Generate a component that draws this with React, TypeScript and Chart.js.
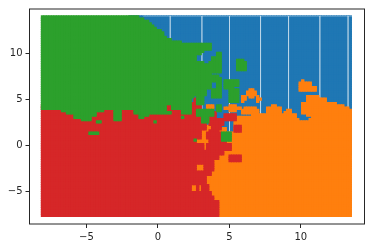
import React, { useEffect, useRef } from "react";
import { Chart, registerables } from "chart.js";

Chart.register(...registerables);

// Regions of the decision surface, as [xMin, xMax, yMin, yMax]
const blueRegions = [[-2, 13.6, -1, 14.1]];

const orangeRegions = [
  [2.26, 4.15, -7.8, 2.29], [4.15, 5.27, -7.8, 1.54], [4.15, 4.85, 1.54, 1.85],
  [5.27, 6.46, -7.8, 3.15], [6.46, 8.77, -7.8, 3.36], [8.77, 9.05, -7.8, 3.58],
  [9.05, 9.4, -7.8, 3.9], [9.4, 9.68, -7.8, 3.47], [9.68, 9.89, -7.8, 2.93],
  [9.89, 10.52, -7.8, 2.61], [10.52, 10.66, -7.8, 2.82], [10.1, 10.38, 3.47, 4.76],
  [10.38, 10.66, 3.15, 5.3], [10.66, 11.23, -7.8, 5.3], [11.23, 11.86, -7.8, 5.08],
  [11.86, 12.56, -7.8, 4.76], [12.56, 12.98, -7.8, 4.44], [12.98, 13.33, -7.8, 4.11],
  [13.33, 13.6, -7.8, 3.79],
  [6.39, 6.67, 5.08, 6.15], [6.18, 6.81, 5.3, 5.83], [5.76, 6.18, 4.87, 5.3],
  [5.9, 6.04, 4.65, 5.51], [6.81, 7.23, 4.87, 5.08], [6.95, 7.09, 4.65, 5.3],
  [4.64, 5.76, 3.9, 4.22], [4.92, 5.48, 3.68, 4.44], [5.76, 7.02, 3.36, 3.9],
  [6.04, 6.81, 3.36, 4.11], [3.38, 3.87, 4.01, 4.44], [7.51, 8.56, 3.36, 4.11],
  [7.86, 8.21, 3.36, 4.44], [9.96, 10.24, 5.95, 7.23], [9.89, 10.66, 5.95, 6.91],
  [9.89, 11.16, 5.95, 6.48],
];

const redRegions = [
  [-8.17, 2.96, 2.82, 4.33], [-8.17, 3.31, 2.29, 2.82], [3.52, 4.57, 2.29, 2.82],
  [-8.17, 3.31, 1.75, 2.29], [3.8, 4.5, 1.75, 2.29], [-8.17, 3.1, 1.32, 1.75],
  [3.52, 4.22, 1.32, 1.75], [-8.17, 3.1, 0.67, 1.32], [3.45, 4.5, 0.67, 1.32],
  [-8.17, 2.61, 0.14, 0.67], [3.52, 4.71, 0.14, 0.67], [-8.17, 3.17, -0.61, 0.14],
  [3.45, 5.06, -0.61, 0.14], [-8.17, 4.57, -0.93, -0.61], [-8.17, 4.22, -1.47, -0.93],
  [-8.17, 3.87, -2.02, -1.47], [-8.17, 2.61, -2.76, -2.02], [3.17, 3.87, -2.76, -2.02],
  [-8.17, 3.66, -3.29, -2.76], [-8.17, 3.45, -4.16, -3.29], [-8.17, 2.26, -4.9, -4.16],
  [2.68, 2.82, -4.9, -4.16], [3.1, 3.52, -4.9, -4.16], [-8.17, 3.66, -5.45, -4.9],
  [-8.17, 3.87, -5.98, -5.45], [-8.17, 4.22, -6.52, -5.98], [-8.17, 4.29, -7.8, -6.52],
  [4.92, 5.76, -1.9, -0.93], [5.27, 5.9, 1.32, 2.29], [4.57, 5.41, 2.61, 3.47],
  [3.45, 4.15, 2.93, 3.68], [2.47, 2.75, 3.95, 5.08], [2.26, 2.96, 4.33, 4.76],
];

const greenRegions = [
  [-8.17, -7.19, 3.95, 14.1], [-7.19, -6.84, 3.79, 14.1], [-6.84, -6.35, 3.58, 14.1],
  [-6.35, -5.93, 3.36, 14.1], [-5.93, -5.44, 2.93, 14.1], [-5.44, -4.6, 2.66, 14.1],
  [-4.6, -4.25, 3.25, 14.1], [-4.25, -3.83, 3.68, 14.1], [-3.83, -3.13, 3.95, 14.1],
  [-3.13, -2.5, 2.66, 14.1], [-2.5, -2.08, 3.95, 14.1], [-2.08, -1.73, 3.79, 14.1],
  [-1.73, -1.38, 3.47, 14.1], [-1.38, -1.03, 2.93, 13.89], [-1.03, -0.68, 3.25, 13.57],
  [-0.68, -0.47, 3.36, 13.35], [-0.47, -0.26, 3.36, 13.14], [-0.26, -0.05, 3.36, 12.92],
  [-0.05, 0.16, 3.36, 12.6], [0.16, 0.37, 3.36, 12.28], [0.37, 0.58, 3.36, 11.95],
  [0.58, 1.0, 4.33, 11.63], [1.0, 1.56, 3.9, 11.42], [1.56, 1.7, 3.47, 11.42],
  [1.7, 2.26, 3.47, 11.2], [2.26, 2.54, 5.08, 11.2], [2.47, 2.54, 3.47, 4.01],
  [2.54, 3.66, 10.45, 11.1], [2.54, 3.38, 10.24, 10.45], [2.54, 3.17, 10.02, 10.24],
  [2.54, 2.96, 9.81, 10.02], [2.54, 2.75, 9.05, 9.81], [2.54, 3.17, 8.84, 9.05],
  [2.54, 3.66, 7.66, 8.84], [2.54, 4.29, 7.34, 7.66], [2.54, 4.5, 6.91, 7.34],
  [2.54, 3.66, 6.15, 6.91], [2.54, 3.45, 5.51, 6.15], [2.75, 3.17, 4.33, 5.51],
  [4.01, 4.5, 9.59, 10.02], [3.8, 4.5, 9.16, 9.59], [3.59, 4.5, 7.98, 9.16],
  [4.01, 4.5, 6.26, 6.91], [3.8, 4.5, 5.19, 6.15], [4.64, 5.62, 6.48, 7.23],
  [4.64, 5.27, 6.26, 6.48], [4.92, 5.62, 4.76, 6.15], [5.55, 5.97, 9.16, 9.38],
  [5.55, 6.25, 8.19, 9.16], [4.01, 4.5, 3.68, 4.44], [2.61, 3.87, 3.15, 4.01],
  [3.0, 3.52, 2.4, 3.15], [4.5, 5.13, 0.46, 1.32],
  [-4.6, -4.25, 1.21, 1.43], [-4.88, -4.18, 1.11, 1.32], [-4.25, -3.99, 2.5, 2.72],
  [-0.35, -0.05, 2.5, 2.72], [0.58, 0.86, 3.36, 3.58], [1.56, 1.84, 2.93, 3.15],
  [2.47, 2.68, 0.36, 0.56],
];

const seamPositions = [0.86, 3.08, 5.01, 7.18, 9.14, 11.33, 13.3];
const seamRange = [14.05, -1];
const topEdge = [-1.03, 13.6, 14.05];

const xTicks = [-5, 0, 5, 10];
const yTicks = [-5, 0, 5, 10];

const xStart = -8.07;
const xStep = 0.175;
const xCount = 124;
const yStart = 13.95;
const yStep = 0.248;
const yCount = 88;

function mesh(regions: number[][]) {
  const pts: { x: number; y: number }[] = [];
  for (let i = 0; i < xCount; i++) {
    const x = xStart + i * xStep;
    for (let j = 0; j < yCount; j++) {
      const y = yStart - j * yStep;
      if (regions.some((r) => x >= r[0] && x <= r[1] && y >= r[2] && y <= r[3])) pts.push({ x, y });
    }
  }
  return pts;
}

function seamPoints() {
  const pts: { x: number; y: number }[] = [];
  for (const s of seamPositions) {
    pts.push({ x: s, y: seamRange[0] }, { x: s, y: seamRange[1] }, { x: s, y: NaN });
  }
  pts.push({ x: topEdge[0], y: topEdge[2] }, { x: topEdge[1], y: topEdge[2] });
  return pts;
}

const frame = {
  id: "frame",
  afterDraw(chart: any) {
    const { ctx, chartArea: a } = chart;
    ctx.save();
    ctx.strokeStyle = "#262626";
    ctx.lineWidth = 1;
    ctx.strokeRect(a.left, a.top, a.right - a.left, a.bottom - a.top);
    ctx.restore();
  },
};

const cell = (color: string) => ({
  showLine: false,
  pointStyle: "rect",
  pointRadius: 2.4,
  pointHoverRadius: 2.4,
  pointBorderWidth: 0,
  pointBackgroundColor: color,
  backgroundColor: color,
  borderColor: color,
});

export default function App() {
  const ref = useRef<HTMLCanvasElement>(null);
  useEffect(() => {
    document.body.style.margin = "0";
    const chart = new Chart(ref.current!, {
      type: "scatter",
      data: {
        datasets: [
          { label: "0", data: mesh(blueRegions), order: 5, ...cell("#1f77b4") },
          { label: "1", data: mesh(orangeRegions), order: 3, ...cell("#ff7f0e") },
          { label: "2", data: mesh(greenRegions), order: 1, ...cell("#2ca02c") },
          { label: "3", data: mesh(redRegions), order: 2, ...cell("#d62728") },
          {
            label: "seams",
            data: seamPoints(),
            order: 4,
            showLine: true,
            spanGaps: false,
            pointRadius: 0,
            borderWidth: 1,
            borderColor: "rgba(255,255,255,0.35)",
          },
        ],
      },
      options: {
        responsive: false,
        animation: false,
        events: [],
        layout: { padding: { top: 6, right: 5.5, left: 0, bottom: 0 } },
        plugins: { legend: { display: false }, tooltip: { enabled: false } },
        scales: {
          x: {
            type: "linear",
            min: -8.98,
            max: 14.45,
            afterBuildTicks: (s: any) => {
              s.ticks = xTicks.map((value) => ({ value }));
            },
            afterFit: (s: any) => {
              s.height = 24;
            },
            grid: { drawOnChartArea: false, drawTicks: true, tickLength: 4, tickColor: "#262626" },
            border: { display: false },
            ticks: {
              color: "#262626",
              padding: 3,
              maxRotation: 0,
              autoSkip: false,
              font: { family: "DejaVu Sans", size: 10 },
              callback: (v: any) => String(v).replace("-", "\u2212"),
            },
          },
          y: {
            type: "linear",
            min: -8.56,
            max: 14.82,
            afterBuildTicks: (s: any) => {
              s.ticks = yTicks.map((value) => ({ value }));
            },
            afterFit: (s: any) => {
              s.width = 29.5;
            },
            grid: { drawOnChartArea: false, drawTicks: true, tickLength: 4, tickColor: "#262626" },
            border: { display: false },
            ticks: {
              color: "#262626",
              padding: 3,
              autoSkip: false,
              font: { family: "DejaVu Sans", size: 10 },
              callback: (v: any) => String(v).replace("-", "\u2212"),
            },
          },
        },
      },
      plugins: [frame],
    } as any);
    return () => chart.destroy();
  }, []);
  return (
    <div style={{ width: 370, height: 248 }}>
      <canvas ref={ref} width={370} height={248} style={{ display: "block" }} />
    </div>
  );
}
